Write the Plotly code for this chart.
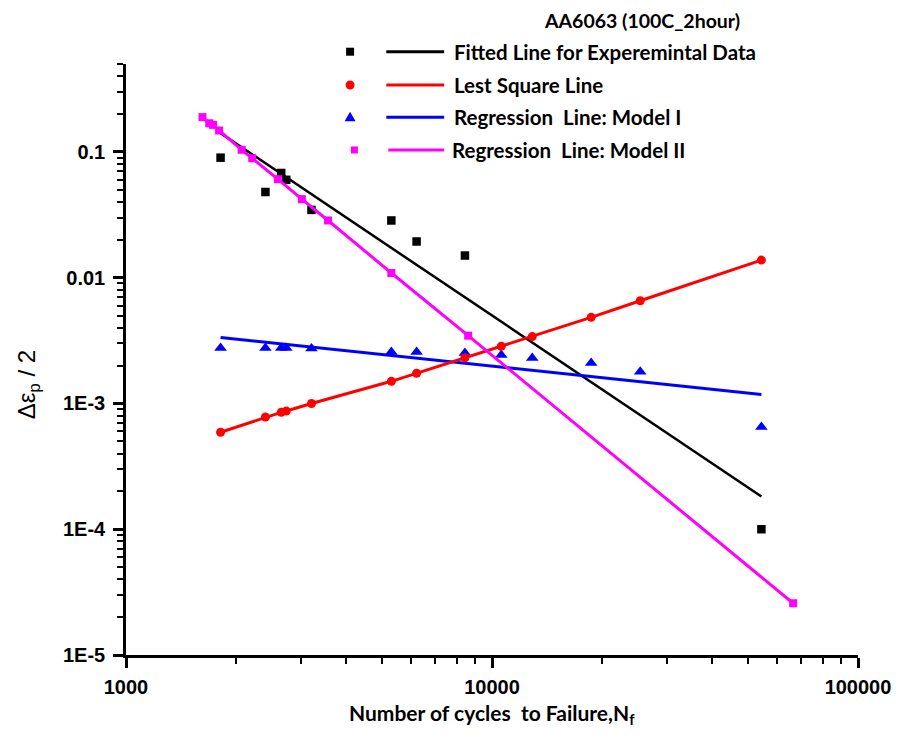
import plotly.graph_objects as go

# ---- data -------------------------------------------------------------
# experimental plastic strain amplitude vs cycles to failure
cycles_exp = [1813, 2404, 2655, 2741, 3212, 5309, 6223, 8434, 54460]
strain_exp = [0.090, 0.048, 0.068, 0.060, 0.0346, 0.0285, 0.0194, 0.0150, 1.0e-4]

# fitted power-law line for the experimental data (end points)
cycles_fit = [1813, 54460]
strain_fit_exp = [0.141, 1.82e-4]

# cycles used for least-square line and model I
cycles_model = [1813, 2404, 2655, 2741, 3212, 5309, 6223, 8434,
                10600, 12880, 18660, 25410, 54460]
strain_ls = [5.9e-4, 7.8e-4, 8.5e-4, 8.7e-4, 1.0e-3, 1.50e-3, 1.74e-3,
             2.31e-3, 2.85e-3, 3.40e-3, 4.84e-3, 6.56e-3, 0.0138]
strain_m1 = [2.76e-3, 2.76e-3, 2.76e-3, 2.76e-3, 2.74e-3, 2.57e-3, 2.57e-3,
             2.52e-3, 2.43e-3, 2.30e-3, 2.10e-3, 1.79e-3, 6.5e-4]
# regression line of model I (end points)
strain_fit_m1 = [3.34e-3, 1.18e-3]

# regression model II
cycles_m2 = [1618, 1688, 1730, 1796, 2070, 2213, 2600, 3023, 3565,
             5309, 8609, 66500]
strain_m2 = [0.189, 0.169, 0.164, 0.148, 0.104, 0.0891, 0.0607, 0.0421,
             0.0285, 0.0109, 3.46e-3, 2.58e-5]

x_tick_vals = [1000, 10000, 100000]
x_tick_text = ["1000", "10000", "100000"]
y_tick_vals = [1e-5, 1e-4, 1e-3, 1e-2, 1e-1]
y_tick_text = ["1E-5", "1E-4", "1E-3", "0.01", "0.1"]

legend_labels = ["Fitted Line for Experemintal Data", "Lest Square Line",
                 "Regression  Line: Model I", "Regression  Line: Model II"]
chart_title = "AA6063 (100C_2hour)"

# ---- styling ----------------------------------------------------------
BLACK, RED, BLUE, MAGENTA = "#000000", "#FF0000", "#0000FF", "#FF00FF"
W, H = 903, 751
L, R, T, B = 126, 43, 64, 96
PW, PH = W - L - R, H - T - B
TXT_FONT = "Lato"
AX_FONT = "Liberation Sans, Arial"


def px(xp):
    return (xp - L) / PW


def py(yp):
    return (H - B - yp) / PH


fig = go.Figure()

fig.add_trace(go.Scatter(x=cycles_fit, y=strain_fit_exp, mode="lines",
                         line=dict(color=BLACK, width=2.5), showlegend=False))
fig.add_trace(go.Scatter(x=cycles_fit, y=strain_fit_m1, mode="lines",
                         line=dict(color=BLUE, width=3), showlegend=False))
fig.add_trace(go.Scatter(x=cycles_model, y=strain_m1, mode="markers",
                         marker=dict(symbol="triangle-up", size=11, color=BLUE),
                         cliponaxis=False, showlegend=False))
fig.add_trace(go.Scatter(x=cycles_model, y=strain_ls, mode="lines+markers",
                         line=dict(color=RED, width=3),
                         marker=dict(symbol="circle", size=9, color=RED),
                         cliponaxis=False, showlegend=False))
fig.add_trace(go.Scatter(x=cycles_exp, y=strain_exp, mode="markers",
                         marker=dict(symbol="square", size=8.5, color=BLACK),
                         cliponaxis=False, showlegend=False))
fig.add_trace(go.Scatter(x=cycles_m2, y=strain_m2, mode="lines+markers",
                         line=dict(color=MAGENTA, width=3),
                         marker=dict(symbol="square", size=8, color=MAGENTA),
                         cliponaxis=False, showlegend=False))

# ---- hand-drawn legend (symbol, line sample, text) --------------------
shapes = []
annotations = []
rows = [
    (BLACK, "square", 51.7, 350.7, 387, 453),
    (RED, "circle", 85.0, 350.7, 387, 453),
    (BLUE, "triangle", 117.3, 350.7, 387, 453),
    (MAGENTA, "square_small", 150.0, 355.0, 389, 451),
]
for (color, sym, yrow, mx, lx, tx), label in zip(rows, legend_labels):
    if sym == "square":
        shapes.append(dict(type="rect", xref="paper", yref="paper",
                           x0=px(mx - 4), x1=px(mx + 4), y0=py(yrow + 4), y1=py(yrow - 4),
                           fillcolor=color, line=dict(width=0)))
    elif sym == "square_small":
        shapes.append(dict(type="rect", xref="paper", yref="paper",
                           x0=px(mx - 3.5), x1=px(mx + 3.5), y0=py(yrow + 3.5), y1=py(yrow - 3.5),
                           fillcolor=color, line=dict(width=0)))
    elif sym == "circle":
        shapes.append(dict(type="circle", xref="paper", yref="paper",
                           x0=px(mx - 4.5), x1=px(mx + 4.5), y0=py(yrow + 4.5), y1=py(yrow - 4.5),
                           fillcolor=color, line=dict(width=0)))
    else:
        path = "M {:.5f},{:.5f} L {:.5f},{:.5f} L {:.5f},{:.5f} Z".format(
            px(mx - 5.5), py(yrow + 4), px(mx + 5.5), py(yrow + 4), px(mx), py(yrow - 5.5))
        shapes.append(dict(type="path", xref="paper", yref="paper", path=path,
                           fillcolor=color, line=dict(width=0)))
    shapes.append(dict(type="line", xref="paper", yref="paper",
                       x0=px(lx), x1=px(445), y0=py(yrow), y1=py(yrow),
                       line=dict(color=color, width=3)))
    annotations.append(dict(text="<b>" + label + "</b>", xref="paper", yref="paper",
                            x=px(tx), y=py(yrow), xanchor="left", yanchor="middle",
                            showarrow=False,
                            font=dict(family=TXT_FONT, size=20.5, color=BLACK)))

annotations.append(dict(text="<b>" + chart_title + "</b>", xref="paper", yref="paper",
                        x=px(543), y=py(20), xanchor="left", yanchor="middle",
                        showarrow=False,
                        font=dict(family=TXT_FONT, size=19.5, color=BLACK)))
annotations.append(dict(text="<b>Number of cycles\u00a0 to Failure,N<sub>f</sub></b>",
                        xref="paper", yref="paper", x=px(493), y=py(714),
                        xanchor="center", yanchor="middle", showarrow=False,
                        font=dict(family=TXT_FONT, size=21, color=BLACK)))
annotations.append(dict(text="\u0394\u03b5<sub>p</sub> / 2", xref="paper", yref="paper",
                        x=px(28), y=py(385), xanchor="center", yanchor="middle",
                        textangle=-90, showarrow=False,
                        font=dict(family=AX_FONT, size=24, color=BLACK)))

x_minor = [m * 10 ** e for e in (3, 4) for m in range(2, 10)]
y_minor = [m * 10.0 ** e for e in (-5, -4, -3, -2) for m in range(2, 10)] + [0.2, 0.3, 0.4, 0.5]

axis_common = dict(type="log", showline=True, linecolor=BLACK, linewidth=2.5,
                   ticks="outside", ticklen=10, tickwidth=2.5, tickcolor=BLACK,
                   showgrid=False, zeroline=False, tickmode="array",
                   tickfont=dict(family=AX_FONT, size=20, color=BLACK, weight="bold"))

fig.update_layout(
    width=W, height=H, margin=dict(l=L, r=R, t=T, b=B),
    plot_bgcolor="white", paper_bgcolor="white",
    xaxis=dict(range=[3, 5], tickvals=x_tick_vals, ticktext=x_tick_text,
               ticklabelstandoff=2,
               minor=dict(tickmode="array", tickvals=x_minor, ticks="outside",
                          ticklen=6, tickwidth=2, tickcolor=BLACK, showgrid=False),
               **axis_common),
    yaxis=dict(range=[-5, -0.30103], tickvals=y_tick_vals, ticktext=y_tick_text,
               ticklabelstandoff=4,
               minor=dict(tickmode="array", tickvals=y_minor, ticks="outside",
                          ticklen=6, tickwidth=2, tickcolor=BLACK, showgrid=False),
               **axis_common),
    shapes=shapes, annotations=annotations, showlegend=False,
)

fig.write_html("out.html")
